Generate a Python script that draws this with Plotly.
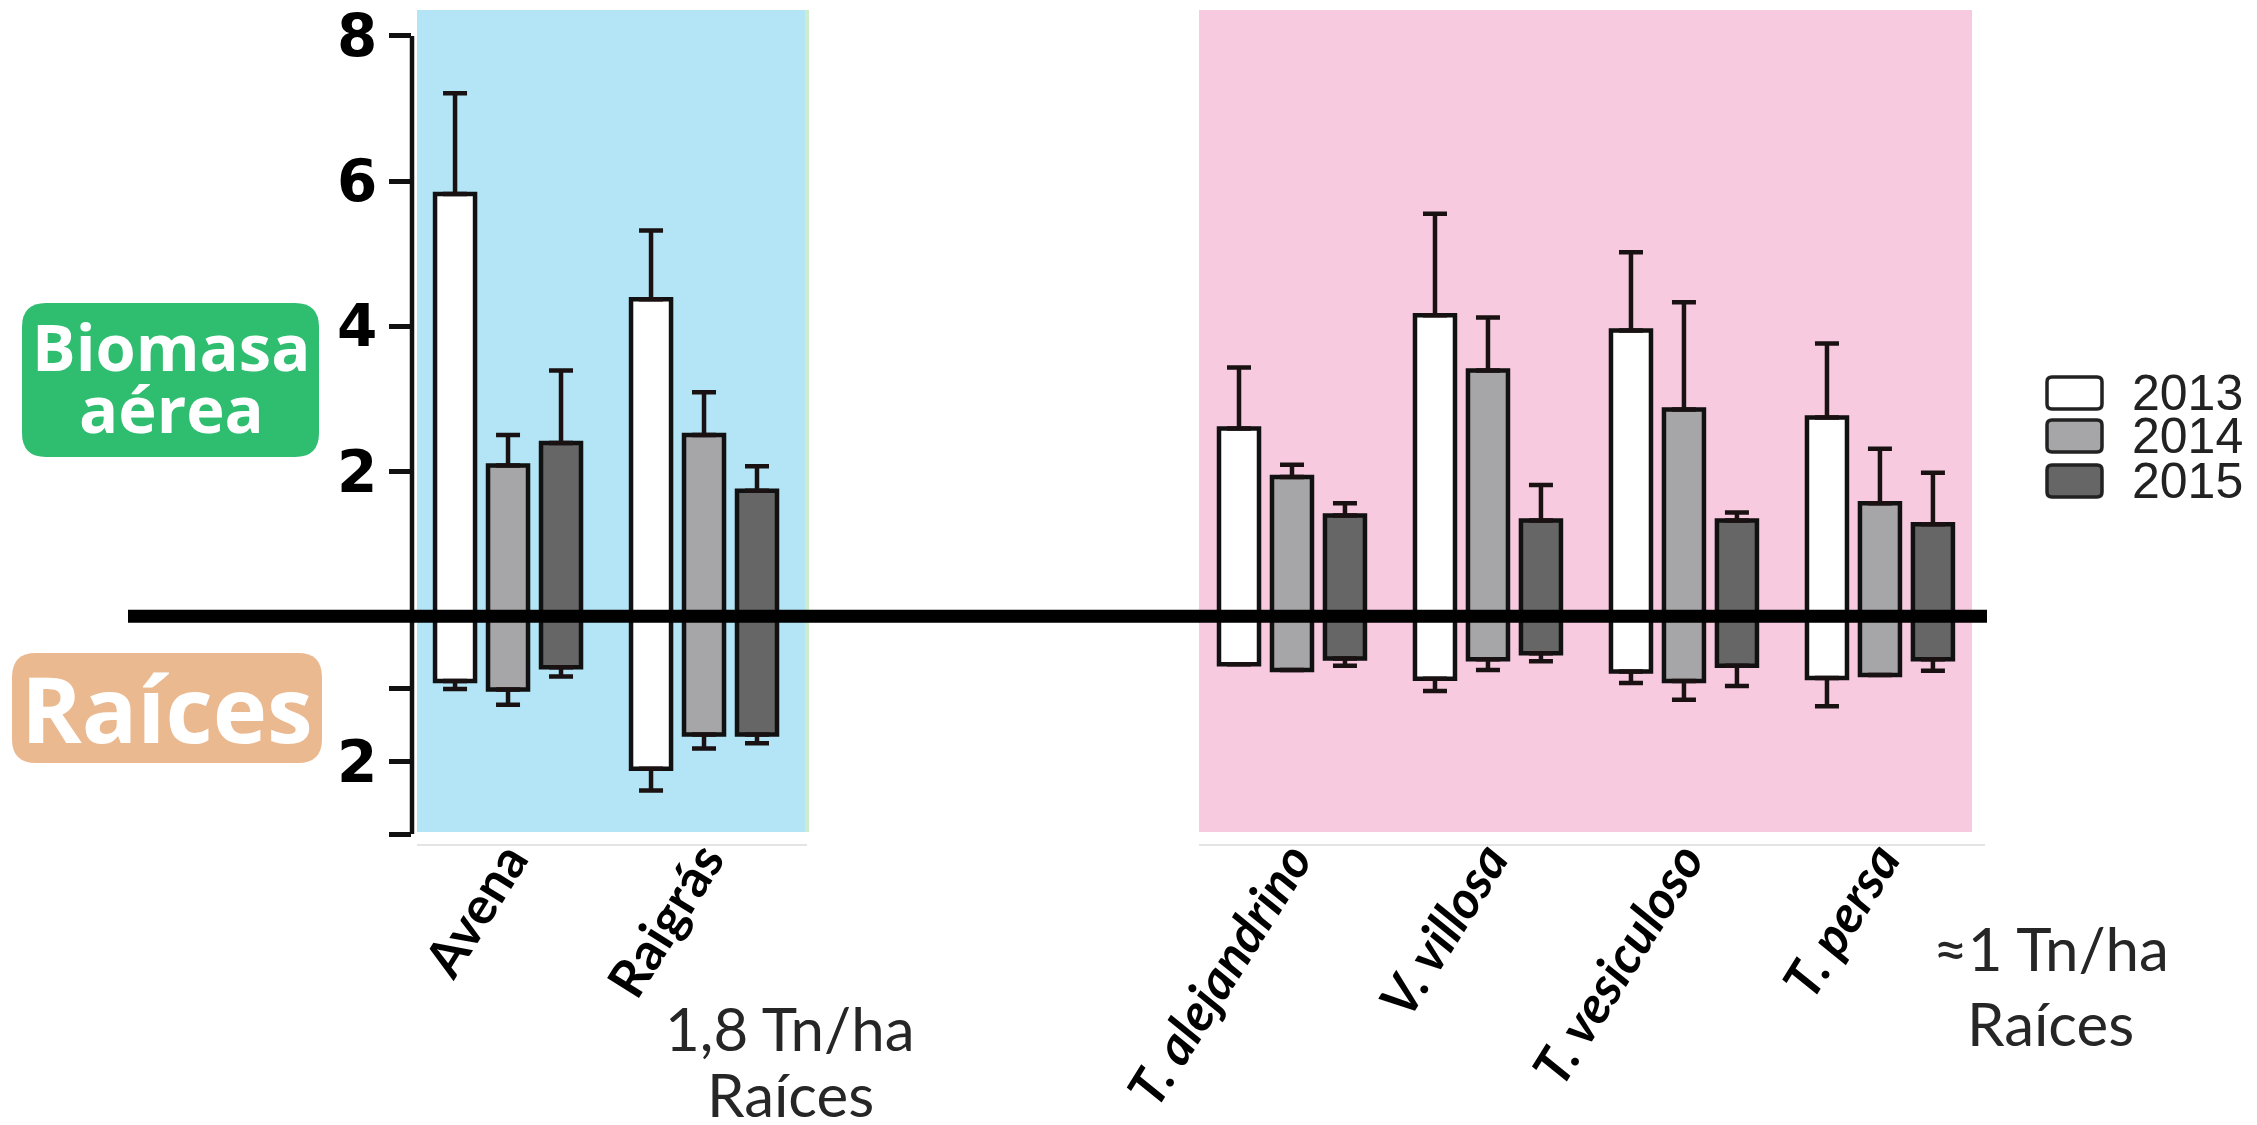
import plotly.graph_objects as go

# ---------------- data ----------------
categories = ["Avena", "Raigrás", "T. alejandrino", "V. villosa", "T. vesiculoso", "T. persa"]
cat_pos = [0, 1, 4, 5, 6, 7]
tick_labels = ["<b>Avena</b>", "<b>Raigrás</b>", "<b><i>T. alejandrino</i></b>",
               "<b><i>V. villosa</i></b>", "<b><i>T. vesiculoso</i></b>", "<b><i>T. persa</i></b>"]
years = ["2013", "2014", "2015"]

aerial_2013 = [5.82, 4.37, 2.59, 4.15, 3.94, 2.74]
aerial_err_2013 = [1.39, 0.95, 0.84, 1.40, 1.08, 1.02]
aerial_2014 = [2.08, 2.50, 1.92, 3.39, 2.85, 1.56]
aerial_err_2014 = [0.42, 0.59, 0.17, 0.73, 1.48, 0.75]
aerial_2015 = [2.39, 1.73, 1.39, 1.32, 1.32, 1.27]
aerial_err_2015 = [1.00, 0.34, 0.17, 0.49, 0.11, 0.71]

roots_2013 = [-0.89, -2.10, -0.66, -0.86, -0.76, -0.85]
roots_err_2013 = [0.11, 0.30, 0.0, 0.17, 0.16, 0.39]
roots_2014 = [-1.01, -1.63, -0.74, -0.59, -0.89, -0.81]
roots_err_2014 = [0.21, 0.19, 0.0, 0.15, 0.26, 0.0]
roots_2015 = [-0.70, -1.63, -0.58, -0.51, -0.68, -0.59]
roots_err_2015 = [0.13, 0.12, 0.10, 0.11, 0.28, 0.16]

ytick_vals = [-3, -2, -1, 2, 4, 6, 8]
ytick_text = ["", "2", "", "2", "4", "6", "8"]

aerial = [aerial_2013, aerial_2014, aerial_2015]
aerial_err = [aerial_err_2013, aerial_err_2014, aerial_err_2015]
roots = [roots_2013, roots_2014, roots_2015]
roots_err = [roots_err_2013, roots_err_2014, roots_err_2015]
fills = ["#ffffff", "#a6a6a9", "#666666"]

# ---------------- layout geometry ----------------
# the page body adds an 8 px offset, so target screen pixels are shifted by OFF
OFF = 8
W, H = 2257, 1125
PW, PH = 1573, 822
L, T = 412 - OFF, 12 - OFF
R, B = W - L - PW, H - T - PH
YR = [-3, 8.33]
XR = [-0.49, 7.536]


def px(p):
    return (p - OFF - L) / PW


def py(p):
    return 1 - (p - OFF - T) / PH


def rrect(x0, y0, x1, y1, r):
    def P(x, y):
        return f"{px(x):.5f},{py(y):.5f}"
    return (f"M {P(x0 + r, y0)} L {P(x1 - r, y0)} Q {P(x1, y0)} {P(x1, y0 + r)} "
            f"L {P(x1, y1 - r)} Q {P(x1, y1)} {P(x1 - r, y1)} L {P(x0 + r, y1)} "
            f"Q {P(x0, y1)} {P(x0, y1 - r)} L {P(x0, y0 + r)} Q {P(x0, y0)} {P(x0 + r, y0)} Z")


fig = go.Figure()

for i, yr in enumerate(years):
    fig.add_trace(go.Bar(
        x=cat_pos, y=aerial[i], name=yr, offsetgroup=yr,
        marker=dict(color=fills[i], line=dict(color="#111111", width=4.5)),
        error_y=dict(type="data", symmetric=False, array=aerial_err[i],
                     arrayminus=[0] * len(cat_pos), color="#1a1212", thickness=4.5, width=12),
        showlegend=False,
    ))
    fig.add_trace(go.Bar(
        x=cat_pos, y=roots[i], name=yr, offsetgroup=yr,
        marker=dict(color=fills[i], line=dict(color="#111111", width=4.5)),
        error_y=dict(type="data", symmetric=False, array=[0] * len(cat_pos),
                     arrayminus=roots_err[i], color="#1a1212", thickness=4.5, width=12),
        showlegend=False,
    ))

shapes = []
# coloured backgrounds
shapes.append(dict(type="rect", xref="paper", yref="paper", x0=px(417), x1=px(805), y0=py(832), y1=py(10),
                   fillcolor="#b3e5f6", line_width=0, layer="below"))
shapes.append(dict(type="line", xref="paper", yref="paper", x0=px(807), x1=px(807), y0=py(832), y1=py(10),
                   line=dict(color="#cdeccd", width=4), layer="below"))
shapes.append(dict(type="rect", xref="paper", yref="paper", x0=px(1199), x1=px(1972), y0=py(832), y1=py(10),
                   fillcolor="#f8cae0", line_width=0, layer="below"))
# faint frame line under the panels
shapes.append(dict(type="line", xref="paper", yref="paper", x0=px(417), x1=px(807), y0=py(845), y1=py(845),
                   line=dict(color="#e4e4e4", width=2), layer="below"))
shapes.append(dict(type="line", xref="paper", yref="paper", x0=px(1199), x1=px(1985), y0=py(845), y1=py(845),
                   line=dict(color="#e4e4e4", width=2), layer="below"))
# y axis line
shapes.append(dict(type="line", xref="paper", yref="y", x0=0, x1=0, y0=-3, y1=8,
                   line=dict(color="#111111", width=4.5)))
# thick black zero line
shapes.append(dict(type="line", xref="paper", yref="y", x0=px(128), x1=px(1987), y0=0, y1=0,
                   line=dict(color="black", width=13)))
# label boxes
shapes.append(dict(type="path", xref="paper", yref="paper", path=rrect(22, 303, 319, 457, 24),
                   fillcolor="#2fbd70", line_width=0))
shapes.append(dict(type="path", xref="paper", yref="paper", path=rrect(12, 653, 322, 763, 24),
                   fillcolor="#ebb98f", line_width=0))
# legend boxes
legend_rows = [393, 436, 481]
for i, yr in enumerate(years):
    yc = legend_rows[i]
    shapes.append(dict(type="path", xref="paper", yref="paper",
                       path=rrect(2047, yc - 16, 2102, yc + 16, 5),
                       fillcolor=fills[i], line=dict(color="#222222", width=3.5)))

annotations = []


def note(text, x, y, size, color, family, weight="normal", xanchor="center"):
    annotations.append(dict(text=text, xref="paper", yref="paper", x=px(x), y=py(y),
                            xanchor=xanchor, yanchor="middle", showarrow=False,
                            font=dict(size=size, color=color, family=family, weight=weight)))


note("Biomasa", 171, 346, 65, "white", "Open Sans", "bold")
note("aérea", 171, 408, 65, "white", "Open Sans", "bold")
note("Raíces", 167, 707, 92, "white", "Open Sans", "bold")
note("1,8 Tn/ha", 790, 1028, 60, "#262626", "Lato")
note("Raíces", 790, 1094, 60, "#262626", "Lato")
note("≈1 Tn/ha", 2051, 948, 60, "#262626", "Lato")
note("Raíces", 2051, 1023, 60, "#262626", "Lato")
for i, yr in enumerate(years):
    note(yr, 2130, legend_rows[i], 50, "#222222", "Liberation Sans", xanchor="left")

fig.update_layout(
    width=W, height=H,
    margin=dict(l=L, r=R, t=T, b=B, pad=0, autoexpand=False),
    paper_bgcolor="white", plot_bgcolor="rgba(0,0,0,0)",
    barmode="group", bargap=0.189, bargroupgap=0.245,
    shapes=shapes, annotations=annotations,
    showlegend=False,
    xaxis=dict(range=XR, tickvals=cat_pos, ticktext=tick_labels, tickangle=-58,
               showgrid=False, zeroline=False, showline=False, ticks="", automargin=False,
               ticklabelstandoff=-16, ticklabeloverflow="allow",
               tickfont=dict(family="Lato", size=52, color="black")),
    yaxis=dict(range=YR, tickvals=ytick_vals, ticktext=ytick_text, automargin=False,
               showgrid=False, zeroline=False, showline=False, ticklabeloverflow="allow",
               ticks="outside", ticklen=22, tickwidth=4.5, tickcolor="#111111",
               tickfont=dict(family="DejaVu Sans", size=58, color="black", weight="bold")),
)

fig.write_html("out.html")
